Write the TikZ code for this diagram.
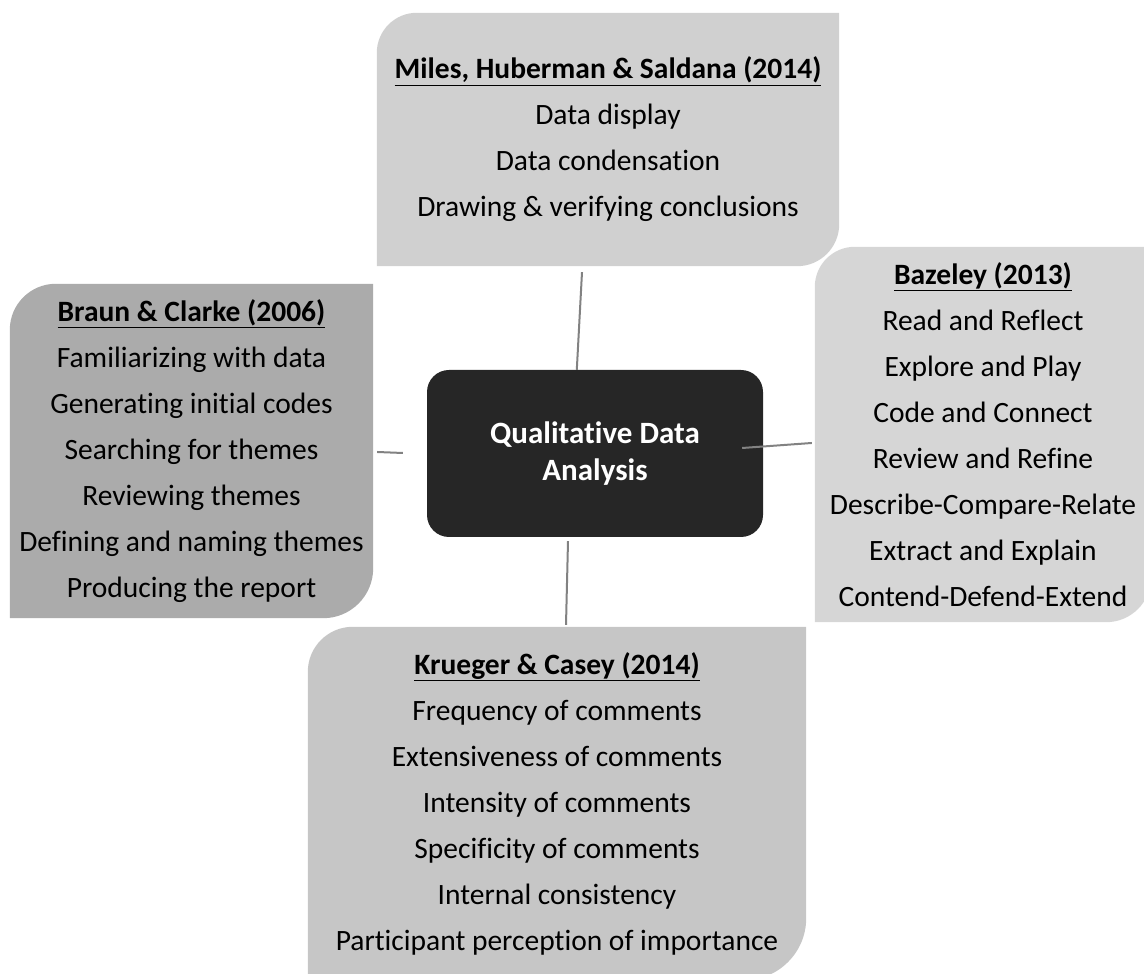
\documentclass[tikz,border=0pt]{standalone}
\usepackage{fontspec}
\setmainfont{Carlito}[Ligatures=NoCommon]
\usetikzlibrary{backgrounds}

% fill a box with rounded top-left and bottom-right corners
\newcommand\leafbox[4]{%
  \fill[#2] (#1.south west) -- ([yshift=-#3pt]#1.north west)
    arc[start angle=180,end angle=90,radius=#3pt] -- (#1.north east)
    -- ([yshift=#4pt]#1.south east)
    arc[start angle=0,end angle=-90,radius=#4pt] -- cycle;}

\definecolor{milesgray}{RGB}{208,208,208}
\definecolor{bazgray}{RGB}{214,214,214}
\definecolor{braungray}{RGB}{171,171,171}
\definecolor{kruegergray}{RGB}{198,198,198}
\definecolor{hubdark}{RGB}{38,38,38}
\definecolor{linkgray}{RGB}{130,130,130}

\tikzset{
  branch/.style={inner sep=0pt, align=center, text=black,
    font=\fontsize{29.5}{46}\selectfont},
  hub/.style={inner sep=0pt, align=center, text=white,
    font=\bfseries\fontsize{31}{37}\selectfont,
    fill=hubdark, rounded corners=22pt,
    minimum width=336pt, minimum height=167pt},
  link/.style={draw=linkgray, line width=2pt},
}

\begin{document}
\begin{tikzpicture}[x=1pt,y=1pt]
\useasboundingbox (0,0) rectangle (1144,974);
\clip (0,0) rectangle (1144,974);

\node[branch, minimum width=462pt, minimum height=253pt] (miles) at (608,834.5)
  {\textbf{\underline{Miles, Huberman \& Saldana (2014)}}\\
   Data display\\ Data condensation\\ Drawing \& verifying conclusions};

\node[branch, minimum width=336pt, minimum height=375pt] (baz) at (983,539.5)
  {\textbf{\underline{Bazeley (2013)}}\\
   Read and Reflect\\ Explore and Play\\ Code and Connect\\ Review and Refine\\
   Describe-Compare-Relate\\ Extract and Explain\\ Contend-Defend-Extend};

\node[branch, minimum width=363pt, minimum height=334pt] (braun) at (191.5,523)
  {\textbf{\underline{Braun \& Clarke (2006)}}\\
   Familiarizing with data\\ Generating initial codes\\ Searching for themes\\
   Reviewing themes\\ Defining and naming themes\\ Producing the report};

\node[branch, minimum width=498pt, minimum height=353pt] (krueger) at (557,170.5)
  {\textbf{\underline{Krueger \& Casey (2014)}}\\
   Frequency of comments\\ Extensiveness of comments\\ Intensity of comments\\
   Specificity of comments\\ Internal consistency\\
   Participant perception of importance};

\begin{scope}[on background layer]
  \leafbox{miles}{milesgray}{40}{42}
  \leafbox{baz}{bazgray}{40}{45}
  \leafbox{braun}{braungray}{46}{50}
  \leafbox{krueger}{kruegergray}{45}{62}
\end{scope}

\node[hub] (qda) at (595,520.5) {Qualitative Data\\Analysis};

% connectors between the hub and the four branches
\draw[link] ([xshift=150pt]qda.north west) -- ([xshift=-26pt,yshift=-6pt]miles.south);
\draw[link] ([xshift=-21pt,yshift=5.5pt]qda.east) -- ([xshift=-3pt,yshift=-8.5pt]baz.west);
\draw[link] ([xshift=4pt,yshift=-1pt]braun.east) -- ([xshift=-24pt,yshift=0.5pt]qda.west);
\draw[link] ([xshift=-27pt,yshift=-4pt]qda.south) -- ([xshift=9pt,yshift=2pt]krueger.north);
\end{tikzpicture}
\end{document}
